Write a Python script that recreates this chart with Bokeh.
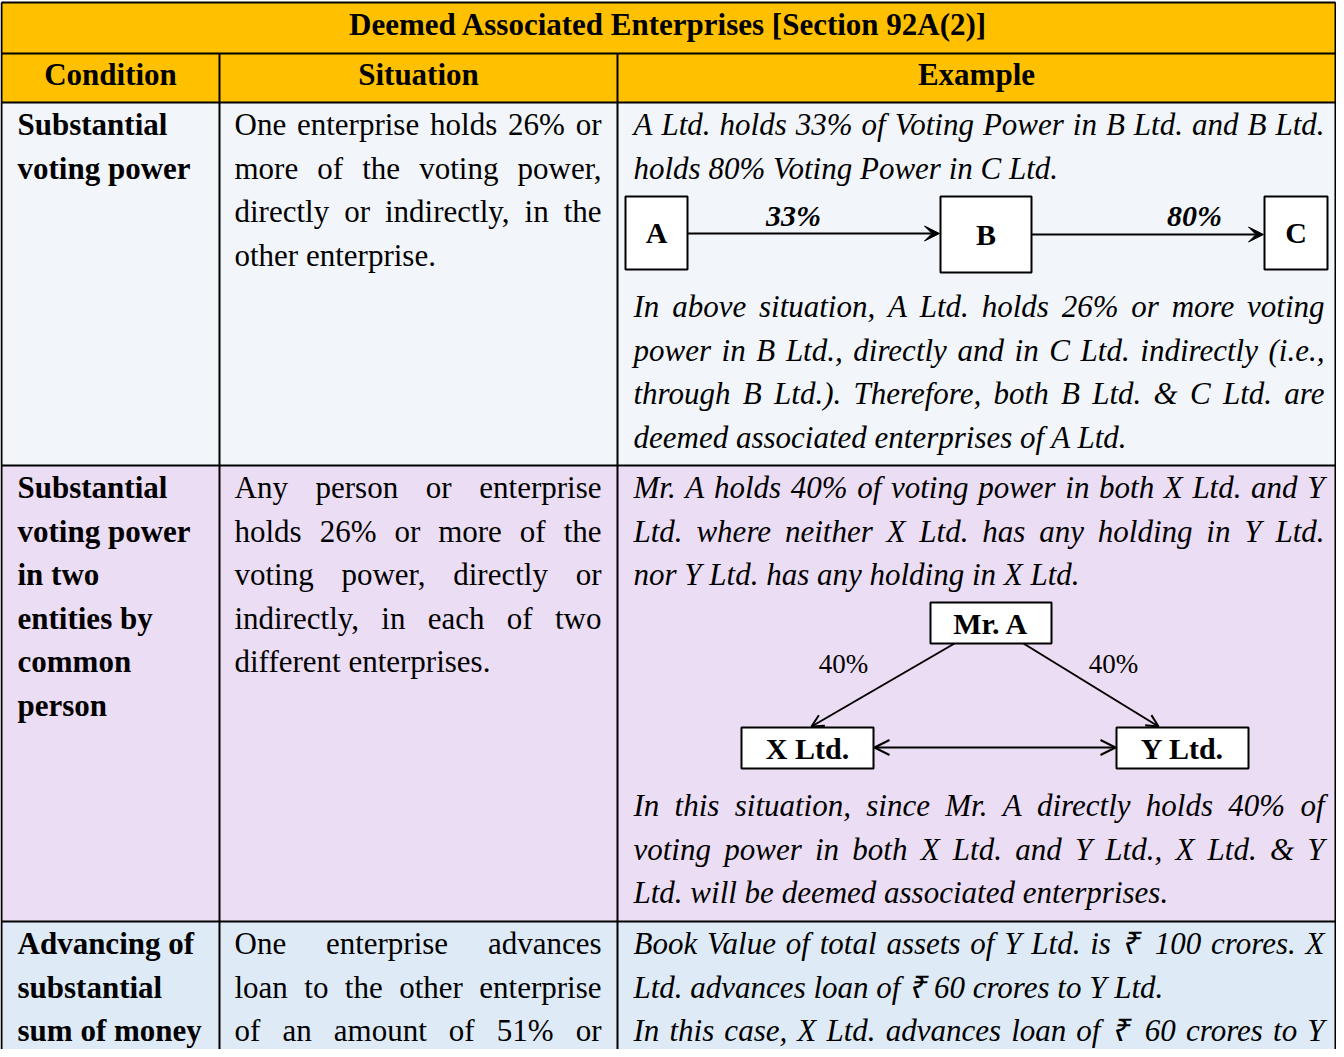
import os
from bokeh.plotting import figure
from bokeh.models import ColumnDataSource, Range1d, Arrow, VeeHead, OpenHead
from bokeh.core.properties import value
from bokeh.embed import file_html
from bokeh.resources import INLINE

# ---------------- data (text of the table) ----------------
TITLE = "Deemed Associated Enterprises [Section 92A(2)]"
HEADERS = ["Condition", "Situation", "Example"]

CONDITIONS = [
    ["Substantial", "voting power"],
    ["Substantial", "voting power", "in two", "entities by", "common", "person"],
    ["Advancing of", "substantial", "sum of money"],
]
# (lines, paragraph continues beyond the visible area)
SITUATIONS = [
    (["One enterprise holds 26% or", "more of the voting power,",
      "directly or indirectly, in the", "other enterprise."], False),
    (["Any person or enterprise", "holds 26% or more of the",
      "voting power, directly or", "indirectly, in each of two",
      "different enterprises."], False),
    (["One enterprise advances", "loan to the other enterprise",
      "of an amount of 51% or"], True),
]
EXAMPLES_TOP = [
    (["A Ltd. holds 33% of Voting Power in B Ltd. and B Ltd.",
      "holds 80% Voting Power in C Ltd."], False),
    (["Mr. A holds 40% of voting power in both X Ltd. and Y",
      "Ltd. where neither X Ltd. has any holding in Y Ltd.",
      "nor Y Ltd. has any holding in X Ltd."], False),
    (["Book Value of total assets of Y Ltd. is \u20b9 100 crores. X",
      "Ltd. advances loan of \u20b9 60 crores to Y Ltd."], False),
]
EXAMPLES_BOTTOM = [
    (["In above situation, A Ltd. holds 26% or more voting",
      "power in B Ltd., directly and in C Ltd. indirectly (i.e.,",
      "through B Ltd.). Therefore, both B Ltd. & C Ltd. are",
      "deemed associated enterprises of A Ltd."], False),
    (["In this situation, since Mr. A directly holds 40% of",
      "voting power in both X Ltd. and Y Ltd., X Ltd. & Y",
      "Ltd. will be deemed associated enterprises."], False),
    (["In this case, X Ltd. advances loan of \u20b9 60 crores to Y"], True),
]
CHAIN_NODES = ["A", "B", "C"]
CHAIN_PCTS = ["33%", "80%"]
HUB = "Mr. A"
SPOKES = ["X Ltd.", "Y Ltd."]
SPOKE_PCTS = ["40%", "40%"]

ROW_COLORS = ["#F2F5FA", "#EBDDF3", "#DEEAF6"]
HEAD_COLOR = "#FFC000"

# ---------------- layout ----------------
W, H = 1336, 1049
X0, X1 = 5, 1341
Y0, Y1 = 7, 1056
SX = (X1 - X0) / W

FONT = "Liberation Serif"
FS = 31
PITCH = 43.6
BASE_SHIFT = 0.34  # empirical correction of the rendered baseline (em)

FONT_FILES = {
    "normal": "LiberationSerif-Regular.ttf",
    "bold": "LiberationSerif-Bold.ttf",
    "italic": "LiberationSerif-Italic.ttf",
    "bold italic": "LiberationSerif-BoldItalic.ttf",
}

try:
    from PIL import ImageFont
except Exception:
    ImageFont = None


def locate(fname):
    for root in ("/usr/share/fonts", "/usr/local/share/fonts",
                 os.path.expanduser("~/.local/share/fonts"),
                 os.path.expanduser("~/.fonts")):
        if os.path.isdir(root):
            for dp, dn, fns in os.walk(root):
                if fname in fns:
                    return os.path.join(dp, fname)
    return None


_cache = {}


def measure(s, style, size):
    key = (style, size)
    if key not in _cache:
        f = None
        if ImageFont is not None:
            path = locate(FONT_FILES[style])
            if path:
                try:
                    f = ImageFont.truetype(path, size)
                except Exception:
                    f = None
        _cache[key] = f
    f = _cache[key]
    if f is not None:
        try:
            return f.getlength(s) * SX
        except Exception:
            pass
    return len(s) * size * 0.45 * SX


def layout_par(lines, cont, x0, x1, y0, style, out, size=FS):
    n = len(lines)
    for i, line in enumerate(lines):
        y = y0 + i * PITCH
        just = (i < n - 1) or cont
        words = line.split(" ")
        if just and len(words) > 1:
            widths = [measure(w, style, size) for w in words]
            gap = (x1 - x0 - sum(widths)) / (len(words) - 1)
            gap = max(gap, measure(" ", style, size) * 0.7)
            x = x0
            for w, wd in zip(words, widths):
                out["x"].append(x)
                out["y"].append(y)
                out["text"].append(w)
                x += wd + gap
        else:
            out["x"].append(x0)
            out["y"].append(y)
            out["text"].append(line)


def new():
    return {"x": [], "y": [], "text": []}


p = figure(width=W, height=H, output_backend="svg", toolbar_location=None,
           x_range=Range1d(X0, X1), y_range=Range1d(Y1, Y0),
           min_border=0, background_fill_color="white",
           border_fill_color="white", outline_line_color=None)
p.axis.visible = False
p.grid.visible = False

# column / row geometry
COL_X = [6, 224, 622, 1340]
TOP, TITLE_BOT, HEAD_BOT = 9, 60, 109
ROW_TOPS = [109, 472, 928]
ROW_BOTS = [472, 928, 1100]

# backgrounds
p.quad(left=[COL_X[0]], right=[COL_X[3]], top=[TOP], bottom=[HEAD_BOT],
       fill_color=HEAD_COLOR, line_color=None)
p.quad(left=[COL_X[0]] * 3, right=[COL_X[3]] * 3, top=ROW_TOPS, bottom=ROW_BOTS,
       fill_color=ROW_COLORS, line_color=None)

# grid lines
hx0, hx1, hy0, hy1 = [], [], [], []
for y in [TOP, TITLE_BOT, HEAD_BOT] + ROW_TOPS[1:]:
    hx0.append(COL_X[0]); hx1.append(COL_X[3]); hy0.append(y); hy1.append(y)
for x in (COL_X[0], COL_X[3]):
    hx0.append(x); hx1.append(x); hy0.append(TOP); hy1.append(1100)
for x in (COL_X[1], COL_X[2]):
    hx0.append(x); hx1.append(x); hy0.append(TITLE_BOT); hy1.append(1100)
p.segment(x0=hx0, y0=hy0, x1=hx1, y1=hy1, line_color="black", line_width=2)


def draw(data, style, size=FS, align="left"):
    d = dict(data)
    d["y"] = [y - BASE_SHIFT * size for y in data["y"]]
    p.text(x="x", y="y", text="text", source=ColumnDataSource(d),
           text_font=value(FONT), text_font_size=f"{size}px",
           text_font_style=style, text_color="black",
           text_align=align, text_baseline="alphabetic")


# title & headers
hd = new()
hd["x"] += [(COL_X[0] + COL_X[3]) / 2]
hd["y"] += [42]
hd["text"] += [TITLE]
for i, h in enumerate(HEADERS):
    hd["x"].append((COL_X[i] + COL_X[i + 1]) / 2)
    hd["y"].append(92)
    hd["text"].append(h)
draw(hd, "bold", 31, "center")

# body text
bold_t, norm_t, ital_t = new(), new(), new()
first_base = [t + 32.5 for t in ROW_TOPS]
bottom_base = [323.5, 822.5, first_base[2] + 2 * PITCH]
for r in range(3):
    for i, line in enumerate(CONDITIONS[r]):
        bold_t["x"].append(22)
        bold_t["y"].append(first_base[r] + i * PITCH)
        bold_t["text"].append(line)
    lines, cont = SITUATIONS[r]
    layout_par(lines, cont, 239, 606, first_base[r], "normal", norm_t)
    lines, cont = EXAMPLES_TOP[r]
    layout_par(lines, cont, 638, 1329, first_base[r], "italic", ital_t)
    lines, cont = EXAMPLES_BOTTOM[r]
    layout_par(lines, cont, 638, 1329, bottom_base[r], "italic", ital_t)
draw(bold_t, "bold")
draw(norm_t, "normal")
draw(ital_t, "italic")

# ---------- diagram 1: chain A -> B -> C ----------
chain_l = [630, 945, 1269]
chain_r = [692, 1036, 1332]
chain_t = [203, 203, 203]
chain_b = [276, 279, 276]
p.quad(left=chain_l, right=chain_r, top=chain_t, bottom=chain_b,
       fill_color="white", line_color="black", line_width=2)
cn = new()
for i, n in enumerate(CHAIN_NODES):
    cn["x"].append((chain_l[i] + chain_r[i]) / 2)
    cn["y"].append((chain_t[i] + chain_b[i]) / 2 + 10)
    cn["text"].append(n)
draw(cn, "bold", 30, "center")
arrow_y = [240, 241]
for i in range(2):
    p.add_layout(Arrow(x_start=chain_r[i], y_start=arrow_y[i],
                       x_end=chain_l[i + 1] - 1, y_end=arrow_y[i],
                       line_color="black", line_width=2,
                       end=VeeHead(size=15, fill_color="black", line_color="black")))
cp = new()
cp["x"] += [798, 1199]
cp["y"] += [232, 232]
cp["text"] += CHAIN_PCTS
draw(cp, "bold italic", 30, "center")

# ---------- diagram 2: Mr. A -> X Ltd., Y Ltd. ----------
hub_box = (935, 1056, 609, 650)
sp_l = [746, 1121]
sp_r = [878, 1253]
sp_t = [734, 734]
sp_b = [775, 775]
p.quad(left=[hub_box[0]] + sp_l, right=[hub_box[1]] + sp_r,
       top=[hub_box[2]] + sp_t, bottom=[hub_box[3]] + sp_b,
       fill_color="white", line_color="black", line_width=2)
bx = new()
bx["x"] += [(hub_box[0] + hub_box[1]) / 2] + [(sp_l[i] + sp_r[i]) / 2 for i in range(2)]
bx["y"] += [640, 765, 765]
bx["text"] += [HUB] + SPOKES
draw(bx, "bold", 30, "center")
spoke_lines = [(959, 650, 816, 733), (1028, 650, 1163, 733)]
for xs, ys, xe, ye in spoke_lines:
    p.add_layout(Arrow(x_start=xs, y_start=ys, x_end=xe, y_end=ye,
                       line_color="black", line_width=2,
                       end=OpenHead(size=12, line_color="black", line_width=2)))
p.add_layout(Arrow(x_start=sp_r[0] + 1, y_start=754, x_end=sp_l[1] - 1, y_end=754,
                   line_color="black", line_width=2,
                   start=OpenHead(size=15, line_color="black", line_width=2),
                   end=OpenHead(size=15, line_color="black", line_width=2)))
pc = new()
pc["x"] += [848, 1118]
pc["y"] += [680, 680]
pc["text"] += SPOKE_PCTS
draw(pc, "normal", 27, "center")

open("out.html", "w").write(file_html(p, INLINE))
